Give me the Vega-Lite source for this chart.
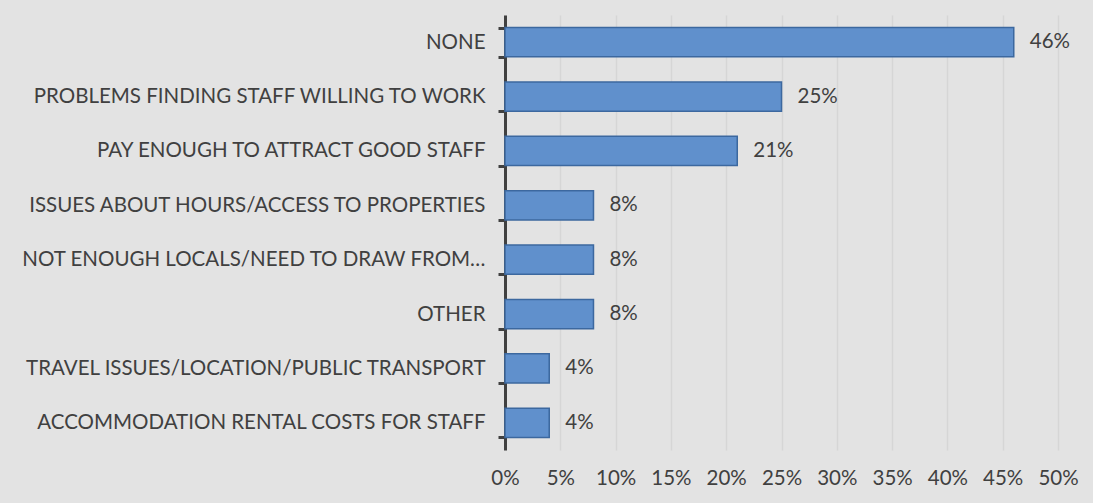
{
  "$schema": "https://vega.github.io/schema/vega-lite/v6.json",
  "autosize": {"type": "none"},
  "width": 553,
  "height": 435,
  "padding": {"left": 505, "top": 15, "right": 35, "bottom": 53},
  "background": "#e3e3e3",
  "config": {
    "view": {"stroke": null},
    "font": "Lato"
  },
  "data": {
    "values": [
      {"category": "NONE", "value": 0.46, "label": "46%"},
      {"category": "PROBLEMS FINDING STAFF WILLING TO WORK", "value": 0.25, "label": "25%"},
      {"category": "PAY ENOUGH TO ATTRACT GOOD STAFF", "value": 0.21, "label": "21%"},
      {"category": "ISSUES ABOUT HOURS/ACCESS TO PROPERTIES", "value": 0.08, "label": "8%"},
      {"category": "NOT ENOUGH LOCALS/NEED TO DRAW FROM…", "value": 0.08, "label": "8%"},
      {"category": "OTHER", "value": 0.08, "label": "8%"},
      {"category": "TRAVEL ISSUES/LOCATION/PUBLIC TRANSPORT", "value": 0.04, "label": "4%"},
      {"category": "ACCOMMODATION RENTAL COSTS FOR STAFF", "value": 0.04, "label": "4%"}
    ]
  },
  "encoding": {
    "y": {
      "field": "category", "type": "nominal", "sort": null,
      "scale": {"paddingInner": 0.46, "paddingOuter": 0.23},
      "axis": {
        "title": null, "tickBand": "extent", "domainColor": "#404040", "domainWidth": 3,
        "tickColor": "#404040", "tickWidth": 3, "tickSize": 7, "labelPadding": 13,
        "labelFont": "Lato", "labelFontSize": 20.5, "labelColor": "#404040", "labelLimit": 600, "grid": false
      }
    },
    "x": {
      "field": "value", "type": "quantitative",
      "scale": {"domain": [0, 0.5], "nice": false},
      "axis": {
        "title": null, "format": ".0%", "values": [0, 0.05, 0.1, 0.15, 0.2, 0.25, 0.3, 0.35, 0.4, 0.45, 0.5],
        "domain": false, "ticks": false, "labelPadding": 18, "labelFont": "Lato", "labelFontSize": 20.5,
        "labelFlush": false, "labelOverlap": false,
        "labelColor": "#404040", "grid": true, "gridColor": "#d6d6d6", "gridWidth": 1.5
      }
    }
  },
  "layer": [
    {"mark": {"type": "bar", "color": "#6090cc", "stroke": "#3c689f", "strokeWidth": 1.5}},
    {"mark": {"type": "text", "align": "left", "baseline": "middle", "dx": 16, "fontSize": 20.5, "font": "Lato", "color": "#404040"},
     "encoding": {"text": {"field": "label"}}}
  ]
}
